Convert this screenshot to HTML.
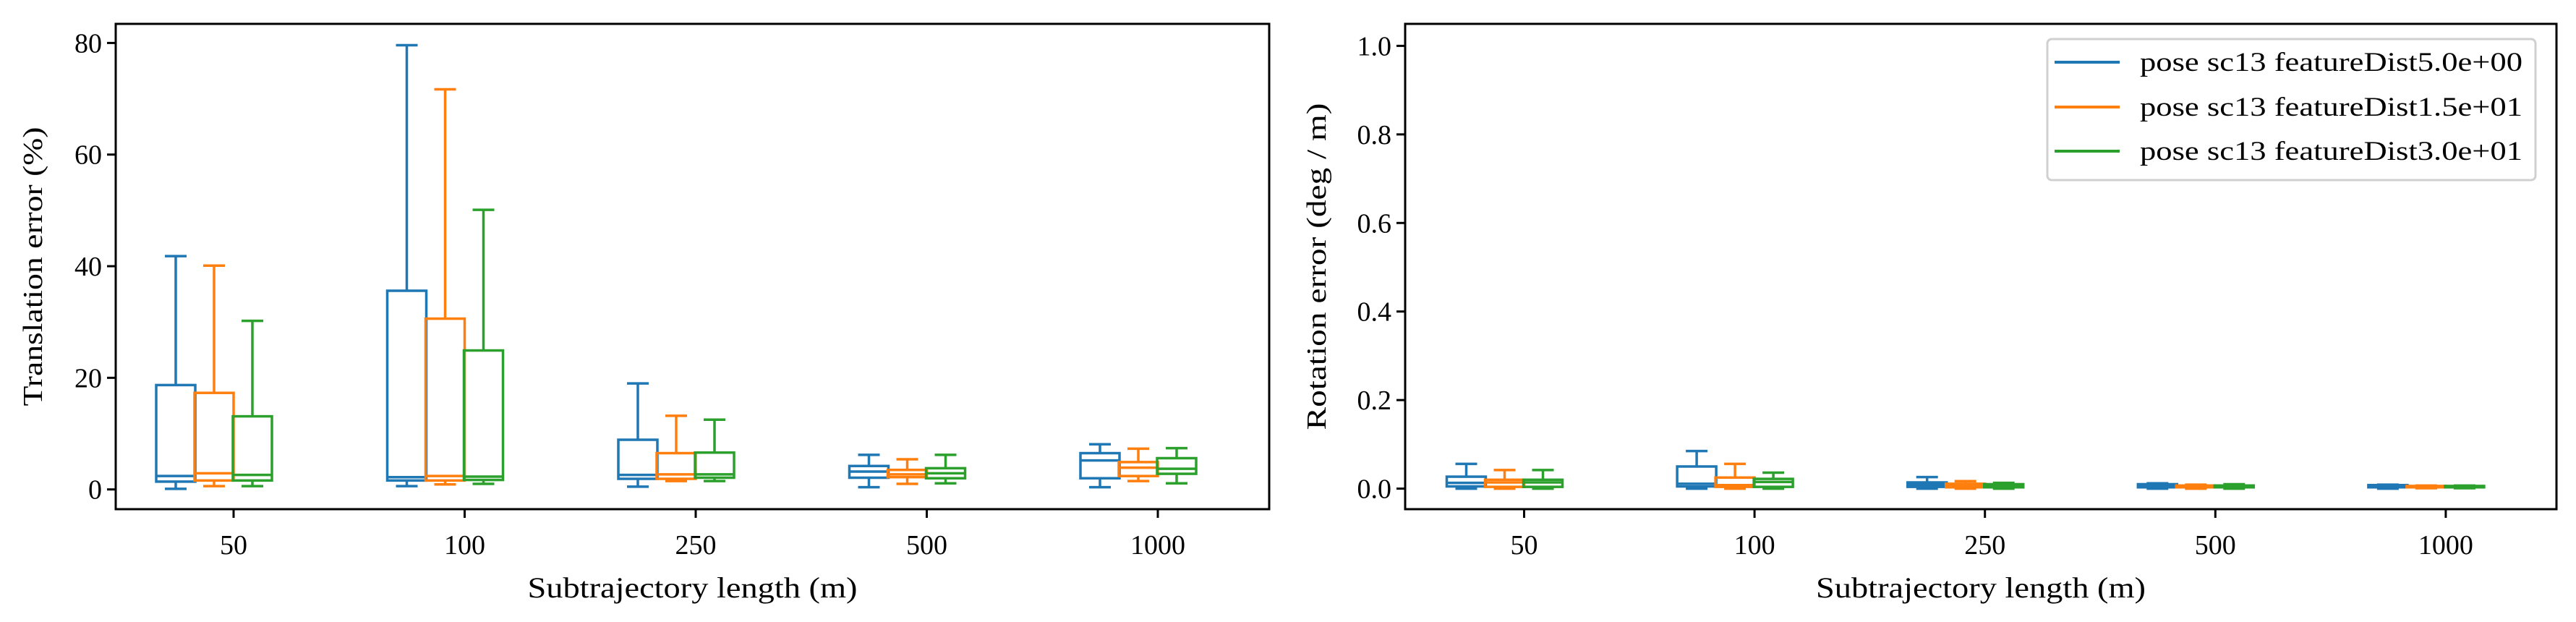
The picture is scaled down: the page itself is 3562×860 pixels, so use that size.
<!DOCTYPE html>
<html><head><meta charset="utf-8"><style>
html,body{margin:0;padding:0;background:#fff;}
svg{display:block;font-family:"Liberation Serif",serif;}
</style></head><body>
<svg id="chart" width="3562" height="860" viewBox="0 0 3562 860" xmlns="http://www.w3.org/2000/svg">
<rect x="0" y="0" width="3562" height="860" fill="#fff"/>
<g id="left"></g>
<g id="right"></g>
</svg>
<script>
const categories = ["50","100","250","500","1000"];
const seriesNames = ["pose sc13 featureDist5.0e+00","pose sc13 featureDist1.5e+01","pose sc13 featureDist3.0e+01"];
const colors = ["#1f77b4","#ff7f0e","#2ca02c"];
// translation error [low, q1, median, q3, high] per category
const transBlue   = [[0.1,1.4,2.4,18.7,41.8],[0.6,1.6,2.2,35.6,79.6],[0.5,1.9,2.6,8.9,19.0],[0.4,2.1,3.2,4.2,6.2],[0.4,2.0,5.2,6.5,8.1]];
const transOrange = [[0.6,1.6,2.9,17.3,40.1],[0.9,1.6,2.4,30.6,71.7],[1.5,1.9,2.7,6.5,13.2],[1.0,2.2,2.7,3.5,5.4],[1.5,2.4,3.9,4.9,7.3]];
const transGreen  = [[0.6,1.6,2.6,13.1,30.2],[1.0,1.7,2.3,24.9,50.1],[1.5,2.1,2.7,6.6,12.5],[1.1,2.0,2.9,3.8,6.2],[1.1,2.8,3.7,5.6,7.4]];
const rotBlue   = [[0,0.005,0.013,0.027,0.056],[0,0.005,0.011,0.050,0.085],[0,0.004,0.009,0.014,0.026],[0,0.003,0.006,0.010,0.012],[0,0.003,0.006,0.008,0.009]];
const rotOrange = [[0,0.004,0.014,0.020,0.042],[0,0.004,0.008,0.025,0.056],[0,0.003,0.007,0.011,0.017],[0,0.003,0.005,0.007,0.009],[0.001,0.003,0.005,0.006,0.007]];
const rotGreen  = [[0,0.004,0.014,0.020,0.042],[0,0.004,0.015,0.022,0.036],[0,0.003,0.007,0.010,0.013],[0,0.003,0.005,0.007,0.010],[0.001,0.003,0.005,0.006,0.007]];
const transTicks = [0,20,40,60,80];
const transTickLabels = ["0","20","40","60","80"];
const rotTicks = [0,0.2,0.4,0.6,0.8,1.0];
const rotTickLabels = ["0.0","0.2","0.4","0.6","0.8","1.0"];

const NS="http://www.w3.org/2000/svg";
function mk(parent,tag,attrs,text){const e=document.createElementNS(NS,tag);for(const k in attrs)e.setAttribute(k,attrs[k]);if(text!==undefined)e.textContent=text;parent.appendChild(e);return e;}

function panel(g,cfg){
  const {x0,x1,y0,y1,v0,v1,vy0,vy1,xTick0,xStep,ticks,tickLabels,series,ylabel,ylabelX,ylabelLen,prefix}=cfg;
  const yS=v=>vy0+(v-v0)*(vy1-vy0)/(v1-v0);
  const xS=i=>xTick0+i*xStep;
  const offs=[-80,-27,26], bw=54, cap=30;
  series.forEach((data,s)=>{
    data.forEach((d,i)=>{
      const cx=xS(i)+offs[s];
      const grp=mk(g,'g',{});
      
      
      const st={stroke:colors[s],'stroke-width':3.5,fill:'none'};
      mk(grp,'line',Object.assign({x1:cx,x2:cx,y1:yS(d[0]),y2:yS(d[1])},st));
      mk(grp,'line',Object.assign({x1:cx,x2:cx,y1:yS(d[3]),y2:yS(d[4])},st));
      mk(grp,'line',Object.assign({x1:cx-cap/2,x2:cx+cap/2,y1:yS(d[0]),y2:yS(d[0])},st));
      mk(grp,'line',Object.assign({x1:cx-cap/2,x2:cx+cap/2,y1:yS(d[4]),y2:yS(d[4])},st));
      mk(grp,'rect',Object.assign({x:cx-bw/2,y:yS(d[3]),width:bw,height:Math.max(0.1,yS(d[1])-yS(d[3]))},st));
      mk(grp,'line',Object.assign({x1:cx-bw/2,x2:cx+bw/2,y1:yS(d[2]),y2:yS(d[2])},st));
    });
  });
  const frame=mk(g,'rect',{x:x0,y:y0,width:x1-x0,height:y1-y0,fill:'none',stroke:'#000','stroke-width':3});
  
  
  ticks.forEach((t,k)=>{
    const y=yS(t);
    mk(g,'line',{x1:x0-12,x2:x0,y1:y,y2:y,stroke:'#000','stroke-width':3});
    const tl=mk(g,'text',{x:x0-19,y:y+13,'text-anchor':'end','font-size':38},tickLabels[k]);
    
    
  });
  categories.forEach((c,i)=>{
    const x=xS(i);
    mk(g,'line',{x1:x,x2:x,y1:y1,y2:y1+12,stroke:'#000','stroke-width':3});
    const tl=mk(g,'text',{x:x,y:766,'text-anchor':'middle','font-size':38},c);
    
    
  });
  const xl=mk(g,'text',{x:(x0+x1)/2,y:826,'text-anchor':'middle','font-size':40,textLength:456,lengthAdjust:'spacingAndGlyphs'},'Subtrajectory length (m)');
  
  
  const yl=mk(g,'text',{x:0,y:0,'text-anchor':'middle','font-size':38,textLength:ylabelLen,lengthAdjust:'spacingAndGlyphs',transform:`translate(${ylabelX},${(y0+y1)/2}) rotate(-90)`},ylabel);
  
  
}

panel(document.getElementById('left'),{x0:160,x1:1755,y0:33,y1:704,v0:0,v1:80,vy0:676.7,vy1:59.4,xTick0:323,xStep:319.5,
  ticks:transTicks,tickLabels:transTickLabels,series:[transBlue,transOrange,transGreen],ylabel:'Translation error (%)',ylabelX:58,ylabelLen:386,prefix:'trans'});
panel(document.getElementById('right'),{x0:1943,x1:3535,y0:33,y1:704,v0:0,v1:1,vy0:675.6,vy1:63.4,xTick0:2107.5,xStep:318.6,
  ticks:rotTicks,tickLabels:rotTickLabels,series:[rotBlue,rotOrange,rotGreen],ylabel:'Rotation error (deg / m)',ylabelX:1833,ylabelLen:452,prefix:'rot'});

// legend
const svg=document.getElementById('chart');
const lg=mk(svg,'g',{});


mk(lg,'rect',{x:2831,y:54,width:675,height:195,rx:6,fill:'#fff',stroke:'#d0d0d0','stroke-width':3});
const rowsY=[86,148,209];
seriesNames.forEach((n,s)=>{
  const e=mk(lg,'g',{});
  
  
  mk(e,'line',{x1:2841,x2:2931,y1:rowsY[s],y2:rowsY[s],stroke:colors[s],'stroke-width':4});
  mk(e,'text',{x:2959,y:rowsY[s]+12,'font-size':37,textLength:529,lengthAdjust:'spacingAndGlyphs'},n);
});
</script>
</body></html>
